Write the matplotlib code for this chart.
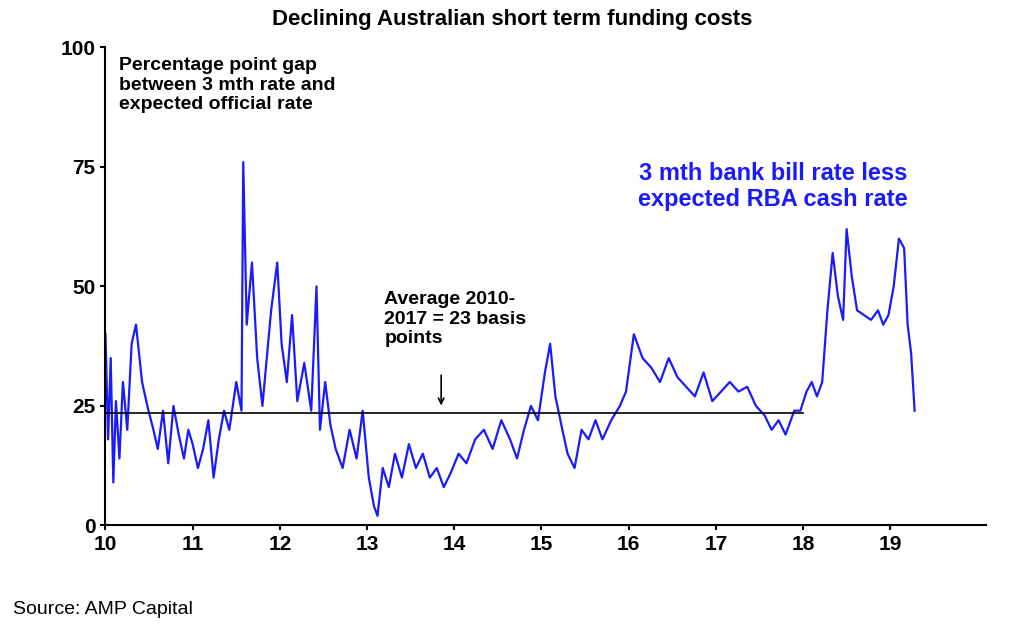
import matplotlib.pyplot as plt

plt.rcParams['font.family'] = ['Liberation Sans', 'DejaVu Sans']

# decimal years and gap values (basis points)
years = [2010.0, 2010.03, 2010.06, 2010.09, 2010.12, 2010.16, 2010.2, 2010.25, 2010.3, 2010.35,
         2010.42, 2010.48, 2010.55, 2010.6, 2010.66, 2010.72, 2010.78, 2010.84, 2010.9, 2010.95,
         2011.0, 2011.06, 2011.12, 2011.18, 2011.24, 2011.3, 2011.36, 2011.42, 2011.5, 2011.56,
         2011.58, 2011.62, 2011.68, 2011.74, 2011.8, 2011.9, 2011.97, 2012.02, 2012.08, 2012.14,
         2012.2, 2012.28, 2012.36, 2012.42, 2012.46, 2012.52, 2012.58, 2012.64, 2012.72, 2012.8,
         2012.88, 2012.95, 2013.02, 2013.08, 2013.12, 2013.18, 2013.25, 2013.32, 2013.4, 2013.48,
         2013.56, 2013.64, 2013.72, 2013.8, 2013.88, 2013.96, 2014.05, 2014.14, 2014.24, 2014.34,
         2014.44, 2014.54, 2014.64, 2014.72, 2014.8, 2014.88, 2014.96, 2015.04, 2015.1, 2015.16,
         2015.24, 2015.3, 2015.38, 2015.46, 2015.54, 2015.62, 2015.7, 2015.8, 2015.9, 2015.97,
         2016.06, 2016.16, 2016.26, 2016.36, 2016.46, 2016.56, 2016.66, 2016.76, 2016.86, 2016.96,
         2017.06, 2017.16, 2017.26, 2017.36, 2017.46, 2017.56, 2017.64, 2017.72, 2017.8, 2017.9,
         2017.97, 2018.04, 2018.1, 2018.16, 2018.22, 2018.28, 2018.34, 2018.4, 2018.46, 2018.5,
         2018.56, 2018.62, 2018.7, 2018.78, 2018.86, 2018.92, 2018.98, 2019.04, 2019.1, 2019.16,
         2019.2, 2019.24, 2019.28]
gap = [40, 18, 35, 9, 26, 14, 30, 20, 38, 42,
       30, 25, 20, 16, 24, 13, 25, 19, 14, 20,
       17, 12, 16, 22, 10, 18, 24, 20, 30, 24,
       76, 42, 55, 35, 25, 45, 55, 38, 30, 44,
       26, 34, 24, 50, 20, 30, 21, 16, 12, 20,
       14, 24, 10, 4, 2, 12, 8, 15, 10, 17,
       12, 15, 10, 12, 8, 11, 15, 13, 18, 20,
       16, 22, 18, 14, 20, 25, 22, 32, 38, 27,
       20, 15, 12, 20, 18, 22, 18, 22, 25, 28,
       40, 35, 33, 30, 35, 31, 29, 27, 32, 26,
       28, 30, 28, 29, 25, 23, 20, 22, 19, 24,
       24, 28, 30, 27, 30, 45, 57, 48, 43, 62,
       52, 45, 44, 43, 45, 42, 44, 50, 60, 58,
       42, 36, 24]
avg_years = [2010.0, 2018.0]
avg_value = [23.5, 23.5]

fig = plt.figure(figsize=(10.24, 6.33), dpi=100)
ax = fig.add_axes([0.103, 0.17, 0.86, 0.755])
ax.plot(years, gap, color='#1a1aff', lw=1.6)
ax.plot(avg_years, avg_value, color='black', lw=1.2)

ax.set_xlim(2010, 2020.1)
ax.set_ylim(0, 100)
ax.set_xticks(range(2010, 2020))
ax.set_xticklabels([str(y)[2:] for y in range(2010, 2020)])
ax.set_yticks([0, 25, 50, 75, 100])
for s in ['top', 'right']:
    ax.spines[s].set_visible(False)
for s in ['left', 'bottom']:
    ax.spines[s].set_linewidth(1.5)
ax.tick_params(axis='both', labelsize=15, width=1.5, direction='out')
for lbl in ax.get_xticklabels() + ax.get_yticklabels():
    lbl.set_fontweight('bold')

fig.suptitle('Declining Australian short term funding costs', fontsize=16,
             fontweight='bold', y=0.985)
ax.text(2010.15, 98, 'Percentage point gap\nbetween 3 mth rate and\nexpected official rate',
        fontsize=14, fontweight='bold', va='top', linespacing=1.2)
ax.text(2019.2, 76, '3 mth bank bill rate less\nexpected RBA cash rate',
        fontsize=17, fontweight='bold', color='#1a1aff', ha='right', va='top',
        linespacing=1.15)
ax.text(2013.2, 49, 'Average 2010-\n2017 = 23 basis\npoints', fontsize=14,
        fontweight='bold', va='top', linespacing=1.2)
ax.annotate('', xy=(2013.85, 24.5), xytext=(2013.85, 32),
            arrowprops=dict(arrowstyle='->', color='black', lw=1.2))
fig.text(0.013, 0.03, 'Source: AMP Capital', fontsize=14)

plt.savefig('out.png')
